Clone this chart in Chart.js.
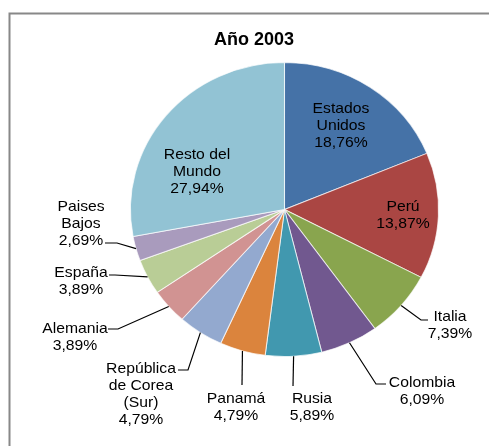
<!DOCTYPE html>
<html>
<head>
<meta charset="utf-8">
<script src="https://cdn.jsdelivr.net/npm/chart.js@4"></script>
<style>
  html, body { margin: 0; padding: 0; background: #fff; }
  canvas { display: block; }
</style>
</head>
<body>
<canvas id="pieChart" width="489" height="446"></canvas>
<script>
// Chart data
const title = 'Año 2003';
const countries = ['Estados Unidos', 'Perú', 'Italia', 'Colombia', 'Rusia', 'Panamá',
    'República de Corea (Sur)', 'Alemania', 'España', 'Paises Bajos', 'Resto del Mundo'];
const shares = [18.76, 13.87, 7.39, 6.09, 5.89, 4.79, 4.79, 3.89, 3.89, 2.69, 27.94];
const sliceColors = ['#4572A7', '#AA4643', '#89A54E', '#71588F', '#4198AF', '#DB843D',
    '#93A9CF', '#D19392', '#B9CD96', '#A99BBD', '#92C3D4'];

// the picture is a bit wider than tall, so stretch the pie sideways
const stretchX = 1.048;

// where each label goes (line breaks + leader line bends)
const labelLayout = [
    { x: 341, y: 113, lines: ['Estados', 'Unidos'] },
    { x: 403, y: 211, lines: ['Perú'] },
    { x: 450, y: 321, lines: ['Italia'], leader: [[421, 320], [428, 320]] },
    { x: 422, y: 387, lines: ['Colombia'], leader: [[376, 384], [386, 384]] },
    { x: 312, y: 403, lines: ['Rusia'], leader: [[293, 386]] },
    { x: 236, y: 403, lines: ['Panamá'], leader: [[242, 385]] },
    { x: 141, y: 373, lines: ['República', 'de Corea', '(Sur)'], leader: [[188, 370], [178, 370]] },
    { x: 75, y: 333, lines: ['Alemania'], leader: [[118, 329], [108, 329]] },
    { x: 81, y: 277, lines: ['España'], leader: [[115, 275], [109, 275]] },
    { x: 81, y: 211, lines: ['Paises', 'Bajos'], leader: [[117, 243], [105, 243]] },
    { x: 197, y: 159, lines: ['Resto del', 'Mundo'] }
];

function formatShare(v) {
    return v.toFixed(2).replace('.', ',') + '%';
}

// Frame and title
const framePlugin = {
    id: 'frame',
    beforeDraw(chart) {
        const ctx = chart.ctx;
        ctx.save();
        ctx.fillStyle = '#fff';
        ctx.fillRect(0, 0, chart.width, chart.height);
        ctx.strokeStyle = '#888';
        ctx.lineWidth = 2;
        ctx.strokeRect(9.5, 13.5, 520, 460);
        ctx.fillStyle = '#000';
        ctx.font = 'bold 18px "Liberation Sans", Arial, sans-serif';
        ctx.textAlign = 'center';
        ctx.textBaseline = 'alphabetic';
        ctx.fillText(title, 254, 45);
        ctx.restore();
    }
};

// Stretch the arcs horizontally around the pie centre
const stretchPlugin = {
    id: 'stretch',
    beforeDatasetsDraw(chart) {
        const arc = chart.getDatasetMeta(0).data[0];
        const ctx = chart.ctx;
        ctx.save();
        ctx.translate(arc.x, 0);
        ctx.scale(stretchX, 1);
        ctx.translate(-arc.x, 0);
    },
    afterDatasetsDraw(chart) {
        chart.ctx.restore();
    }
};

// Data labels with leader lines
const labelPlugin = {
    id: 'sliceLabels',
    afterDatasetsDraw(chart) {
        const ctx = chart.ctx;
        const meta = chart.getDatasetMeta(0);
        ctx.save();
        meta.data.forEach((arc, i) => {
            const lay = labelLayout[i];
            if (lay.leader) {
                const mid = (arc.startAngle + arc.endAngle) / 2;
                const ex = arc.x + Math.cos(mid) * arc.outerRadius * stretchX;
                const ey = arc.y + Math.sin(mid) * arc.outerRadius;
                ctx.strokeStyle = '#000';
                ctx.lineWidth = 1.2;
                ctx.beginPath();
                ctx.moveTo(ex, ey);
                lay.leader.forEach(p => ctx.lineTo(p[0], p[1]));
                ctx.stroke();
            }
            const lines = lay.lines.concat([formatShare(shares[i])]);
            ctx.fillStyle = '#000';
            ctx.font = '15px "Liberation Sans", Arial, sans-serif';
            ctx.textAlign = 'center';
            ctx.textBaseline = 'alphabetic';
            lines.forEach((txt, k) => {
                ctx.save();
                ctx.translate(lay.x, lay.y + k * 17);
                ctx.scale(stretchX, 1);
                ctx.fillText(txt, 0, 0);
                ctx.restore();
            });
        });
        ctx.restore();
    }
};

new Chart(document.getElementById('pieChart'), {
    type: 'pie',
    data: {
        labels: countries,
        datasets: [{
            data: shares,
            backgroundColor: sliceColors,
            borderColor: 'rgba(255, 255, 255, 0.7)',
            borderWidth: 1
        }]
    },
    options: {
        responsive: false,
        animation: false,
        events: [],
        layout: {
            padding: { top: 62, bottom: 89, left: 80, right: 0 }
        },
        plugins: {
            legend: { display: false },
            title: { display: false },
            tooltip: { enabled: false }
        }
    },
    plugins: [framePlugin, stretchPlugin, labelPlugin]
});
</script>
</body>
</html>
